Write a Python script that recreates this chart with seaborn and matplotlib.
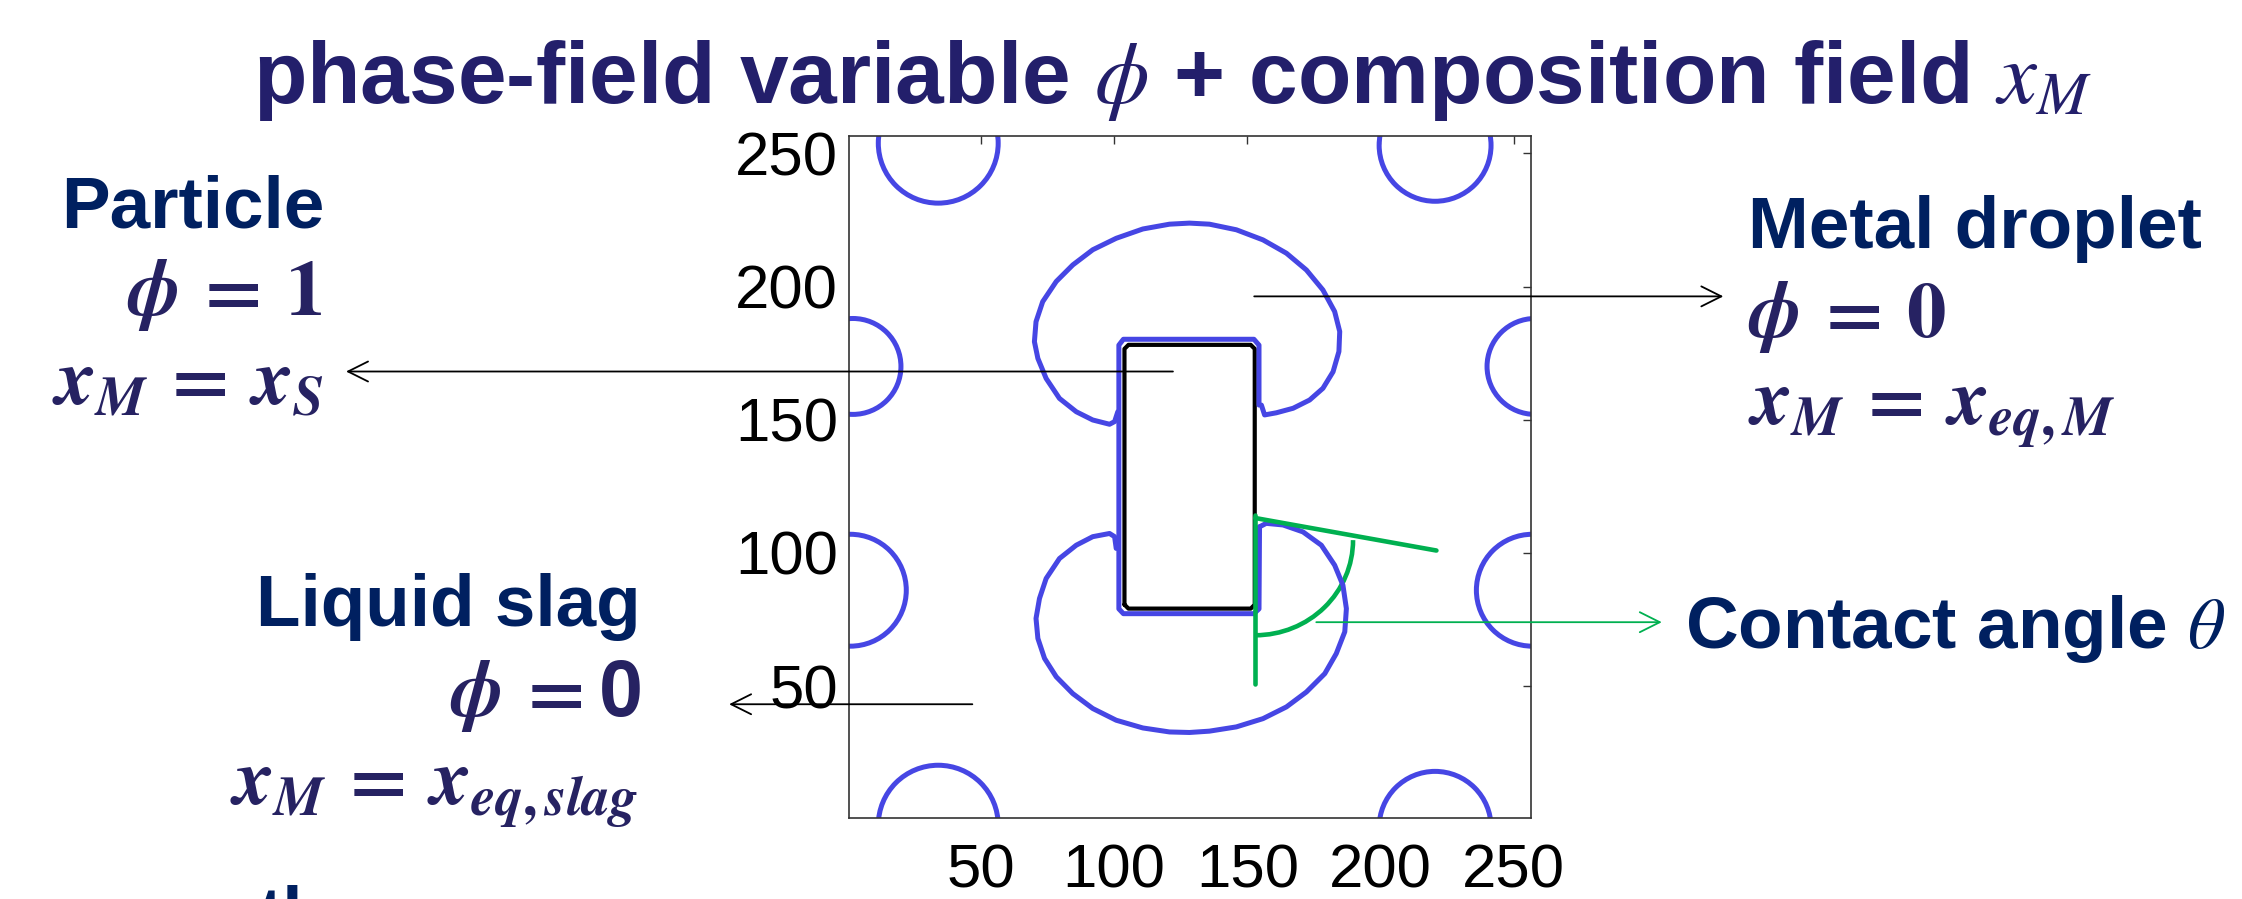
import matplotlib
matplotlib.use('Agg')
import matplotlib.pyplot as plt
import seaborn as sns
from matplotlib.patches import Circle, Arc

W, H = 2242, 899

# colours
BLUE = '#4646E4'
GREEN = '#00B050'
TITLE_C = '#231F6B'
NAVY = '#002060'
MATH_C = '#262262'

# particle outline (black), grid units
rect_x = [103.9, 103.9, 105.4, 151.3, 152.8, 152.8, 151.3, 105.4, 103.9]
rect_y = [80.6, 176.6, 178.1, 178.1, 176.6, 80.6, 79.1, 79.1, 80.6]

# blue phase-field contour hugging the particle
hug_x = [154.4, 154.4, 152.5, 103.5, 101.8, 101.8, 103.5, 152.5, 154.4, 154.6]
hug_y = [155.5, 178, 180.2, 180.2, 178, 79, 77.2, 77.2, 79, 109.8]

# upper metal droplet
top_x = [101.4, 100.2, 98.3, 92.0, 85.8, 79.5, 74.5, 71.4, 70.1, 70.7,
         73.2, 78.3, 84.5, 92.0, 100.8, 110.8, 120.8, 128.3, 135.8, 145.9,
         155.9, 164.7, 172.2, 178.4, 182.8, 184.7, 184.4, 182.2, 178.4, 173.4,
         167.2, 160.9, 156.5, 155.3]
top_y = [153.0, 149.3, 148.3, 149.9, 153.0, 158.0, 165.5, 173.0, 179.3, 186.8,
         194.3, 201.9, 208.1, 213.8, 218.1, 221.6, 223.4, 223.8, 223.4, 221.3,
         217.5, 212.5, 206.2, 198.7, 190.6, 183.1, 175.6, 168.0, 161.8, 157.4,
         154.3, 152.6, 151.8, 155.5]

# lower metal droplet
bot_x = [100.8, 100.2, 98.3, 92.0, 85.8, 79.5, 74.5, 72.0, 70.7, 71.4,
         73.9, 78.3, 84.5, 92.0, 100.8, 110.8, 120.8, 128.3, 135.8, 145.9,
         155.9, 164.7, 172.2, 179.1, 183.4, 186.6, 187.2, 185.9, 182.8, 177.8,
         170.9, 163.4, 157.1, 154.6]
bot_y = [101.7, 106.1, 107.3, 106.1, 102.9, 97.9, 90.4, 82.9, 75.4, 67.9,
         60.4, 53.5, 47.2, 41.6, 37.2, 34.3, 32.8, 32.6, 33.1, 34.7,
         37.8, 42.2, 47.8, 54.7, 62.2, 70.4, 79.1, 87.9, 95.4, 102.9,
         107.9, 110.5, 111.1, 109.8]

# periodic droplet images at the box edges
circ_x = [34, 34, 220.5, 220.5, 2, 258, 1, 257]
circ_y = [253.8, -2.2, 253, -3, 170, 170, 86, 86]
circ_r = [22.5, 22.5, 21, 21, 18, 18, 21, 21]

# contact angle construction
wall_x = [153, 153]
wall_y = [50.9, 114.2]
tang_x = [153, 221]
tang_y = [113.1, 100.9]
arc_c = (153, 104.8)
arc_w, arc_h = 73.4, 71.4

# annotation arrows: start inside the box, tip outside
arr_start_x = [122.1, 152.6, 46.8]
arr_tip_x = [-188.3, 328.7, -44.5]
arr_y = [168.1, 196.3, 43.2]
green_start = (175.9, 74.0)
green_tip_x = 305.6

ticks = [50, 100, 150, 200, 250]

sns.set_theme(style='white')
plt.rcParams['font.family'] = ['Liberation Sans', 'DejaVu Sans']
plt.rcParams['mathtext.fontset'] = 'custom'
plt.rcParams['mathtext.it'] = 'STIXGeneral:italic:bold'
plt.rcParams['mathtext.rm'] = 'STIXGeneral:bold'
plt.rcParams['mathtext.bf'] = 'STIXGeneral:bold'

fig = plt.figure(figsize=(W / 100, H / 100), dpi=100)
fig.patch.set_facecolor('white')
ax = fig.add_axes([849 / W, 81 / H, 682 / W, 682 / H])

line_kw = dict(sort=False, estimator=None, ax=ax)
sns.lineplot(x=rect_x, y=rect_y, color='black', lw=3.0, **line_kw)
for xs, ys in [(hug_x, hug_y), (top_x, top_y), (bot_x, bot_y)]:
    sns.lineplot(x=xs, y=ys, color=BLUE, lw=3.6, **line_kw)
for ln in ax.lines:
    ln.set_solid_joinstyle('round')
    ln.set_solid_capstyle('round')
for cx, cy, r in zip(circ_x, circ_y, circ_r):
    ax.add_patch(Circle((cx, cy), r, fill=False, ec=BLUE, lw=3.6))

sns.lineplot(x=wall_x, y=wall_y, color=GREEN, lw=3.3, **line_kw)
sns.lineplot(x=tang_x, y=tang_y, color=GREEN, lw=3.3, **line_kw)
ax.add_patch(Arc(arc_c, arc_w, arc_h, theta1=270, theta2=360, color=GREEN, lw=3.3))

for x0, x1, y in zip(arr_start_x, arr_tip_x, arr_y):
    ax.annotate('', xy=(x1, y), xytext=(x0, y), annotation_clip=False,
                arrowprops=dict(arrowstyle='->', color='black', lw=1.3,
                                shrinkA=0, shrinkB=0, mutation_scale=36))
ax.annotate('', xy=(green_tip_x, green_start[1]), xytext=green_start, annotation_clip=False,
            arrowprops=dict(arrowstyle='->', color=GREEN, lw=1.3,
                            shrinkA=0, shrinkB=0, mutation_scale=36))

ax.set_xlim(0.5, 256.5)
ax.set_ylim(0.5, 256.5)
ax.set_xticks(ticks)
ax.set_yticks(ticks)
ax.set_xlabel('')
ax.set_ylabel('')
ax.tick_params(axis='both', direction='in', length=5.8, width=1, color='#333333',
               top=True, right=True, labelsize=44.5, labelcolor='black')
ax.tick_params(axis='x', pad=18)
ax.tick_params(axis='y', pad=8)
for s in ax.spines.values():
    s.set_color('#333333')
    s.set_linewidth(1.2)


def fx(px):
    return px / W


def fy(py):
    return 1 - py / H


fig.text(fx(1172), fy(103), r'phase-field variable $\phi$ + composition field $x_M$',
         ha='center', va='baseline', fontsize=63, fontweight='bold', color=TITLE_C,
         math_fontfamily='stix')

word = dict(va='baseline', fontsize=52.5, fontweight='bold', color=NAVY)
math = dict(va='baseline', fontsize=57, color=MATH_C, math_fontfamily='custom')

fig.text(fx(324), fy(227), 'Particle', ha='right', **word)
fig.text(fx(322), fy(315), r'$\phi\,=\,1$', ha='right', **math)
fig.text(fx(323), fy(404), r'$x_M\,=\,x_S$', ha='right', **math)

fig.text(fx(641), fy(626), 'Liquid slag', ha='right', **word)
fig.text(fx(641), fy(716), r'$\phi\,=$0', ha='right', fontweight='bold', **math)
fig.text(fx(638), fy(805), r'$x_M\,=\,x_{eq,slag}$', ha='right', **math)
fig.text(fx(258), fy(937), 'th', ha='left', **word)

fig.text(fx(1748), fy(248), 'Metal droplet', ha='left', **word)
fig.text(fx(1748), fy(337), r'$\phi\,=\,0$', ha='left', **math)
fig.text(fx(1748), fy(425), r'$x_M\,=\,x_{eq,M}$', ha='left', **math)

fig.text(fx(1685), fy(648), r'Contact angle $\theta$', ha='left', va='baseline',
         fontsize=52.5, fontweight='bold', color=NAVY, math_fontfamily='stix')

fig.savefig('out.png', dpi=100, facecolor='white')
